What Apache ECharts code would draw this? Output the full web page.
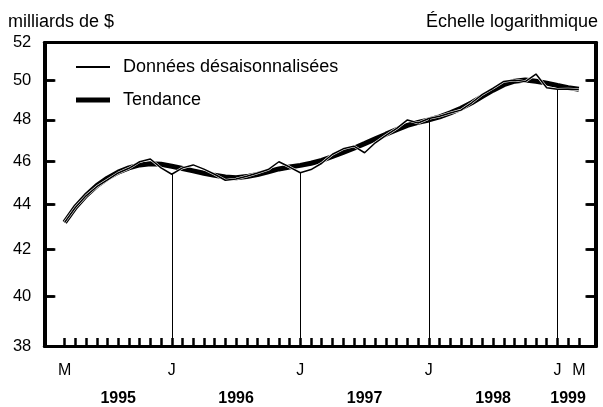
<!DOCTYPE html>
<html>
<head>
    <meta charset="utf-8">
    <title>ECharts</title>
    <script src="https://cdn.jsdelivr.net/npm/echarts@6/dist/echarts.min.js"></script>
</head>
<body style="margin:0">
    <div id="main" style="width: 603px;height:407px;"></div>
    <script type="text/javascript">
        // axe des x : mois depuis janvier 1995 (mars 1995 = 2, mars 1999 = 50)
        var firstMonth = 2;
        var xMin = 0.1, xMax = 51.65;
        var monthTickPos = [2, 12, 24, 36, 48, 50];
        var monthTickText = ['M', 'J', 'J', 'J', 'J', 'M'];
        var yearPos = [7, 18, 30, 42, 49];
        var yearText = ['1995', '1996', '1997', '1998', '1999'];
        var yLabels = [38, 40, 42, 44, 46, 48, 50, 52];
        var yTicks = [40, 42, 44, 46, 48, 50];
        var janLines = [12, 24, 36, 48];

        // milliards de $, mars 1995 à mars 1999
        var desais = [43.18, 43.85, 44.38, 44.8, 45.12, 45.44, 45.66, 45.97, 46.1, 45.68,
                      45.38, 45.68, 45.82, 45.62, 45.38, 45.1, 45.16, 45.29, 45.44, 45.6,
                      45.97, 45.72, 45.45, 45.6, 45.9, 46.33, 46.59, 46.72, 46.4, 46.88,
                      47.24, 47.58, 48.0, 47.85, 48.07, 48.18, 48.35, 48.49, 48.86, 49.29,
                      49.6, 49.95, 50.02, 49.94, 50.33, 49.62, 49.55, 49.56, 49.53];
        var tendance = [43.18, 43.86, 44.4, 44.85, 45.2, 45.48, 45.68, 45.82, 45.88, 45.85,
                        45.76, 45.65, 45.54, 45.43, 45.33, 45.25, 45.22, 45.27, 45.37, 45.5,
                        45.63, 45.72, 45.8, 45.9, 46.04, 46.22, 46.42, 46.62, 46.84, 47.07,
                        47.3, 47.52, 47.73, 47.88, 48.0, 48.15, 48.35, 48.58, 48.86, 49.18,
                        49.5, 49.78, 49.96, 50.02, 49.96, 49.86, 49.74, 49.63, 49.55];

        var monthIdx = [];
        for (var i = 0; i < desais.length; i++) monthIdx.push(i + firstMonth);
        function pairs(arr) { return arr.map(function (v, i) { return [i + firstMonth, v]; }); }

        var font = 'Liberation Sans, Arial, sans-serif';
        var myChart = echarts.init(document.getElementById('main'));

        var lineStyle3 = { color: '#000', width: 3 };
        var tickStyle = { color: '#000', width: 2.5 };

        // cadre gauche / droit et graduations y, un peu en retrait du bord
        var tickLen = 0.93;
        var xL = xMin + 0.1, xR = xMax - 0.1;
        var frameLines = [
            [{ coord: [xL, 38.02], lineStyle: lineStyle3 }, { coord: [xL, 51.98] }],
            [{ coord: [xR, 38.02], lineStyle: lineStyle3 }, { coord: [xR, 51.98] }]
        ];
        yTicks.forEach(function (v) {
            frameLines.push([{ coord: [xL, v], lineStyle: tickStyle }, { coord: [xL + tickLen, v] }]);
            frameLines.push([{ coord: [xR - tickLen, v], lineStyle: tickStyle }, { coord: [xR, v] }]);
        });

        var option = {
            animation: false,
            textStyle: { fontFamily: font, color: '#000' },
            title: [
                { text: 'milliards de $', left: 3, top: 8,
                  textStyle: { fontFamily: font, fontSize: 18, fontWeight: 'normal', color: '#000' } },
                { text: 'Échelle logarithmique', right: 0, top: 8,
                  textStyle: { fontFamily: font, fontSize: 18, fontWeight: 'normal', color: '#000' } }
            ],
            legend: {
                data: [
                    { name: 'Données désaisonnalisées', icon: 'path://M0,0H34V2H0Z' },
                    { name: 'Tendance', icon: 'path://M0,0H34V5H0Z' }
                ],
                orient: 'vertical',
                left: 71,
                top: 53,
                itemWidth: 34,
                itemHeight: 12,
                itemGap: 15,
                symbolKeepAspect: true,
                textStyle: { fontFamily: font, fontSize: 18, color: '#000', padding: [0, 0, 0, 8] }
            },
            grid: {
                left: 44.3, right: 6.5, top: 42.5, bottom: 58.5
            },
            xAxis: [{
                type: 'value', min: xMin, max: xMax, position: 'bottom',
                splitLine: { show: false },
                axisLine: { show: true, lineStyle: lineStyle3 },
                axisTick: { show: true, customValues: monthIdx, inside: true, length: 8,
                            lineStyle: tickStyle },
                axisLabel: { customValues: monthTickPos, margin: 17, fontSize: 16, color: '#000',
                             fontFamily: font,
                             formatter: function (v) { return monthTickText[monthTickPos.indexOf(v)]; } }
            }, {
                type: 'value', min: xMin, max: xMax, position: 'bottom',
                splitLine: { show: false },
                axisLine: { show: false },
                axisTick: { show: false },
                axisLabel: { customValues: yearPos, margin: 45, fontSize: 16, fontWeight: 'bold',
                             color: '#000', fontFamily: font,
                             formatter: function (v) { return yearText[yearPos.indexOf(v)]; } }
            }, {
                // cadre du haut
                type: 'value', min: xMin, max: xMax, position: 'top',
                splitLine: { show: false },
                axisLine: { show: true, lineStyle: lineStyle3 },
                axisTick: { show: false },
                axisLabel: { show: false }
            }],
            yAxis: [{
                type: 'log', logBase: 10, min: 38, max: 52, position: 'left',
                splitLine: { show: false },
                axisLine: { show: true, lineStyle: lineStyle3 },
                axisTick: { show: true, customValues: yTicks, inside: true, length: 10,
                            lineStyle: tickStyle },
                axisLabel: { customValues: yLabels, margin: 13, fontSize: 16.5, color: '#000',
                             fontFamily: font }
            }, {
                type: 'log', logBase: 10, min: 38, max: 52, position: 'right',
                splitLine: { show: false },
                axisLine: { show: true, lineStyle: lineStyle3 },
                axisTick: { show: true, customValues: yTicks, inside: true, length: 10,
                            lineStyle: tickStyle },
                axisLabel: { show: false }
            }],
            series: [{
                name: 'Tendance',
                type: 'line',
                data: pairs(tendance),
                symbol: 'none',
                z: 2,
                lineStyle: { color: '#000', width: 5 },
                itemStyle: { color: '#000' }
            }, {
                name: 'halo',
                type: 'line',
                data: pairs(desais),
                symbol: 'none',
                z: 3,
                silent: true,
                lineStyle: { color: '#fff', width: 2.6 },
                itemStyle: { color: '#fff' }
            }, {
                name: 'Données désaisonnalisées',
                type: 'line',
                data: pairs(desais),
                symbol: 'none',
                z: 4,
                lineStyle: { color: '#000', width: 1.5 },
                itemStyle: { color: '#000' },
                markLine: {
                    silent: true,
                    symbol: 'none',
                    label: { show: false },
                    lineStyle: { color: '#000', width: 1, type: 'solid' },
                    data: janLines.map(function (m) {
                        return [{ coord: [m, 38] }, { coord: [m, desais[m - firstMonth]] }];
                    })
                }
            }, {
                name: 'cadre',
                type: 'line',
                data: pairs(tendance),
                symbol: 'none',
                silent: true,
                z: 5,
                lineStyle: { opacity: 0 },
                markLine: {
                    silent: true,
                    symbol: 'none',
                    label: { show: false },
                    lineStyle: { color: '#000', width: 2.5, type: 'solid' },
                    data: frameLines
                }
            }]
        };

        myChart.setOption(option);
    </script>
</body>
</html>
